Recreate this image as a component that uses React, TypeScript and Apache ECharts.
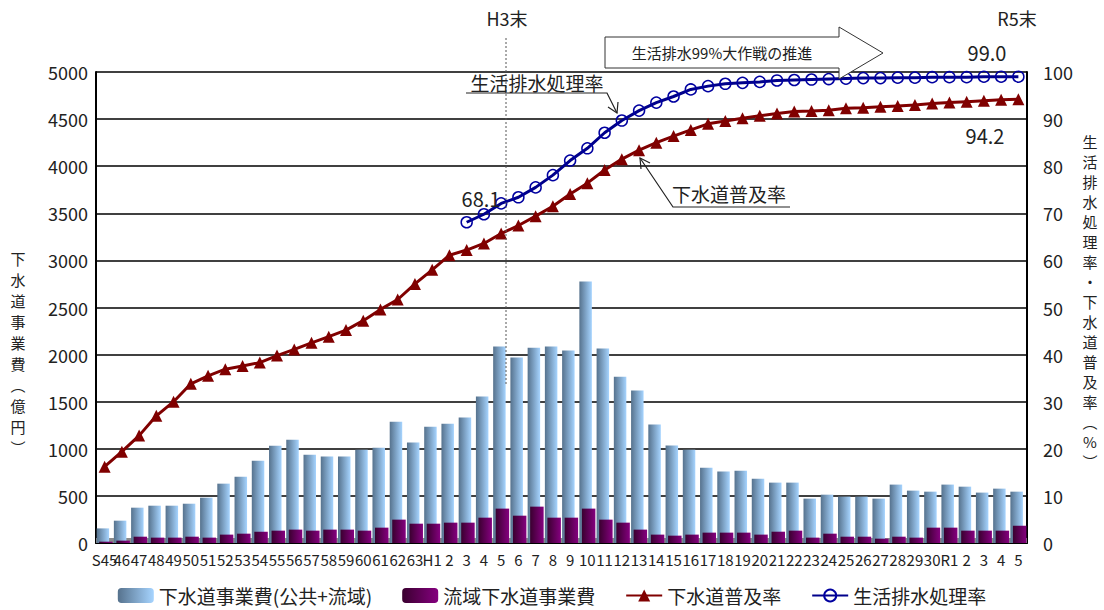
import React, { useEffect, useRef } from "react";
import * as echarts from "echarts";

const categories = [
  "S45","S46","S47","S48","S49","S50","S51","S52","S53","S54","S55","S56","S57","S58","S59","S60","S61","S62","S63",
  "H1","H2","H3","H4","H5","H6","H7","H8","H9","H10","H11","H12","H13","H14","H15","H16","H17","H18","H19","H20",
  "H21","H22","H23","H24","H25","H26","H27","H28","H29","H30",
  "R1","R2","R3","R4","R5",
];

const tickLabels = [
  "S45","46","47","48","49","50","51","52","53","54","55","56","57","58","59","60","61","62","63",
  "H1","2","3","4","5","6","7","8","9","10","11","12","13","14","15","16","17","18","19","20",
  "21","22","23","24","25","26","27","28","29","30",
  "R1","2","3","4","5",
];

// 下水道事業費(公共+流域) 億円
const totalCost = [
  155, 237, 375, 396, 396, 417, 481, 630, 704, 874, 1033, 1097, 938, 917, 917, 990, 1012, 1288, 1066,
  1235, 1267, 1331, 1554, 2085, 1968, 2074, 2085, 2043, 2775, 2064, 1766, 1618, 1257, 1034, 991, 800, 758, 768, 683,
  641, 641, 471, 513, 492, 492, 471, 620, 556, 545,
  620, 598, 535, 577, 545,
];

// 流域下水道事業費 億円
const basinCost = [
  14, 25, 67, 57, 57, 67, 57, 89, 99, 120, 131, 142, 131, 142, 142, 131, 163, 248, 205,
  205, 216, 216, 269, 365, 290, 386, 269, 269, 365, 248, 216, 142, 89, 78, 89, 110, 110, 110, 89,
  120, 131, 57, 99, 67, 67, 46, 67, 57, 163,
  163, 131, 131, 131, 184,
];

// 下水道普及率 %
const sewerRate = [
  16.2, 19.4, 22.8, 27.0, 30.0, 33.8, 35.5, 36.9, 37.6, 38.3, 39.8, 41.1, 42.5, 43.8, 45.2, 47.2, 49.6, 51.7, 55.0,
  58.0, 61.1, 62.2, 63.6, 65.7, 67.4, 69.4, 71.5, 74.1, 76.4, 79.2, 81.5, 83.4, 85.0, 86.4, 87.7, 89.0, 89.6, 90.2, 90.7,
  91.2, 91.6, 91.7, 91.9, 92.3, 92.4, 92.6, 92.8, 93.0, 93.3,
  93.5, 93.7, 93.9, 94.1, 94.2,
];

// 生活排水処理率 % (H3 onward)
const treatRate = [
  null, null, null, null, null, null, null, null, null, null, null, null, null, null, null, null, null, null, null,
  null, null, 68.1, 69.8, 72.1, 73.4, 75.5, 78.1, 81.2, 83.8, 87.1, 89.7, 91.8, 93.5, 94.8, 96.3, 97.0, 97.5, 97.7, 97.9,
  98.2, 98.3, 98.4, 98.5, 98.6, 98.7, 98.7, 98.8, 98.8, 98.9,
  98.9, 98.9, 99.0, 99.0, 99.0,
];

const FONT = '"Noto Sans CJK JP", "Noto Sans", sans-serif';

export default function App() {
  const ref = useRef<HTMLDivElement>(null);

  useEffect(() => {
    document.body.style.margin = "0";
    const chart = echarts.init(ref.current!, null, { renderer: "svg" });

    const blueGrad = new echarts.graphic.LinearGradient(0, 0, 1, 0, [
      { offset: 0, color: "#56728d" },
      { offset: 1, color: "#a6d4ff" },
    ]);
    const purpleGrad = new echarts.graphic.LinearGradient(0, 0, 1, 0, [
      { offset: 0, color: "#3a002f" },
      { offset: 1, color: "#85007f" },
    ]);

    const txt = (x: number, y: number, text: string, size: number, extra: any = {}) => ({
      type: "text",
      x,
      y,
      z: 20,
      style: {
        text,
        fill: "#222",
        fontSize: size,
        fontFamily: FONT,
        align: "center",
        verticalAlign: "middle",
        ...extra,
      },
    });
    const ln = (pts: number[][], extra: any = {}) => ({
      type: "polyline",
      z: 20,
      shape: { points: pts },
      style: { stroke: "#222", lineWidth: 1.2, fill: null, ...extra },
    });

    chart.setOption({
      animation: false,
      textStyle: { fontFamily: FONT },
      grid: { left: 96, right: 77, top: 72, bottom: 67, containLabel: false },
      legend: {
        bottom: 0,
        left: "center",
        itemWidth: 36,
        itemHeight: 15,
        itemGap: 30,
        textStyle: { fontSize: 19, color: "#222", fontFamily: FONT },
        data: ["下水道事業費(公共+流域)", "流域下水道事業費", "下水道普及率", "生活排水処理率"],
      },
      xAxis: {
        type: "category",
        data: categories,
        axisLine: { lineStyle: { color: "#000", width: 2 } },
        axisTick: { show: false },
        axisLabel: {
          interval: 0,
          fontSize: 15,
          color: "#222",
          margin: 9,
          formatter: (_v: string, i: number) => tickLabels[i],
        },
      },
      yAxis: [
        {
          type: "value",
          min: 0,
          max: 5000,
          interval: 500,
          axisLine: { show: true, lineStyle: { color: "#000", width: 2 } },
          axisTick: { show: false },
          axisLabel: { fontSize: 18, color: "#222", margin: 8, formatter: (v: number) => String(v) },
          splitLine: { lineStyle: { color: "#000", width: 1.6 } },
        },
        {
          type: "value",
          min: 0,
          max: 100,
          interval: 10,
          position: "right",
          axisLine: { show: true, lineStyle: { color: "#000", width: 2 } },
          axisTick: { show: false },
          axisLabel: { fontSize: 18, color: "#222", margin: 16, formatter: (v: number) => String(v) },
          splitLine: { show: false },
        },
      ],
      series: [
        {
          name: "下水道事業費(公共+流域)",
          type: "bar",
          data: totalCost,
          barWidth: 12.5,
          barGap: "-80%",
          itemStyle: { color: blueGrad },
          z: 3,
        },
        {
          name: "流域下水道事業費",
          type: "bar",
          data: basinCost,
          barWidth: 13.5,
          itemStyle: { color: purpleGrad },
          z: 4,
        },
        {
          name: "下水道普及率",
          type: "line",
          yAxisIndex: 1,
          data: sewerRate,
          symbol: "triangle",
          symbolSize: 12,
          lineStyle: { color: "#800000", width: 3 },
          itemStyle: { color: "#800000" },
          z: 6,
        },
        {
          name: "生活排水処理率",
          type: "line",
          yAxisIndex: 1,
          data: treatRate,
          symbol: "circle",
          symbolSize: 11,
          lineStyle: { color: "#00008b", width: 3 },
          itemStyle: { color: "rgba(255,255,255,0)", borderColor: "#0000a0", borderWidth: 1.5 },
          z: 7,
        },
      ],
      graphic: [
        // 3D floor strip
        { type: "rect", z: 1, shape: { x: 96, y: 538, width: 931, height: 5 }, style: { fill: "#8a8a8a" } },
        // dotted vertical line at H3末
        {
          type: "line",
          z: 20,
          shape: { x1: 506, y1: 38, x2: 506, y2: 386 },
          style: { stroke: "#555", lineWidth: 1, lineDash: [2, 2] },
        },
        txt(507, 18, "H3末", 18),
        txt(1017, 18, "R5末", 18),
        // big arrow
        {
          type: "polygon",
          z: 19,
          shape: {
            points: [
              [605, 37], [839, 37], [839, 27], [883, 53], [839, 79], [839, 68], [605, 68],
            ],
          },
          style: { fill: "#fff", stroke: "#333", lineWidth: 1 },
        },
        txt(722, 52, "生活排水99%大作戦の推進", 15),
        // 生活排水処理率 label
        txt(537, 82, "生活排水処理率", 19),
        ln([[466, 93], [607, 93], [617, 113]]),
        ln([[608, 107], [617, 113], [618, 102]]),
        // 下水道普及率 label
        txt(729, 193, "下水道普及率", 19),
        ln([[790, 207], [673, 207], [640, 158]]),
        ln([[641, 169], [640, 158], [650, 163]]),
        // value labels
        txt(481, 198, "68.1", 20),
        txt(987, 52, "99.0", 20),
        txt(985, 135, "94.2", 20),
        // axis titles
        txt(18, 248, "下\n水\n道\n事\n業\n費\n︵\n億\n円\n︶", 15, { verticalAlign: "top", lineHeight: 21 }),
        txt(1090, 131, "生\n活\n排\n水\n処\n理\n率\n・\n下\n水\n道\n普\n及\n率\n︵\n%\n︶", 15, {
          verticalAlign: "top",
          lineHeight: 20,
        }),
      ],
    });

    return () => chart.dispose();
  }, []);

  return (
    <div
      ref={ref}
      style={{ position: "absolute", left: 0, top: 0, width: 1104, height: 610, background: "#fff" }}
    />
  );
}
